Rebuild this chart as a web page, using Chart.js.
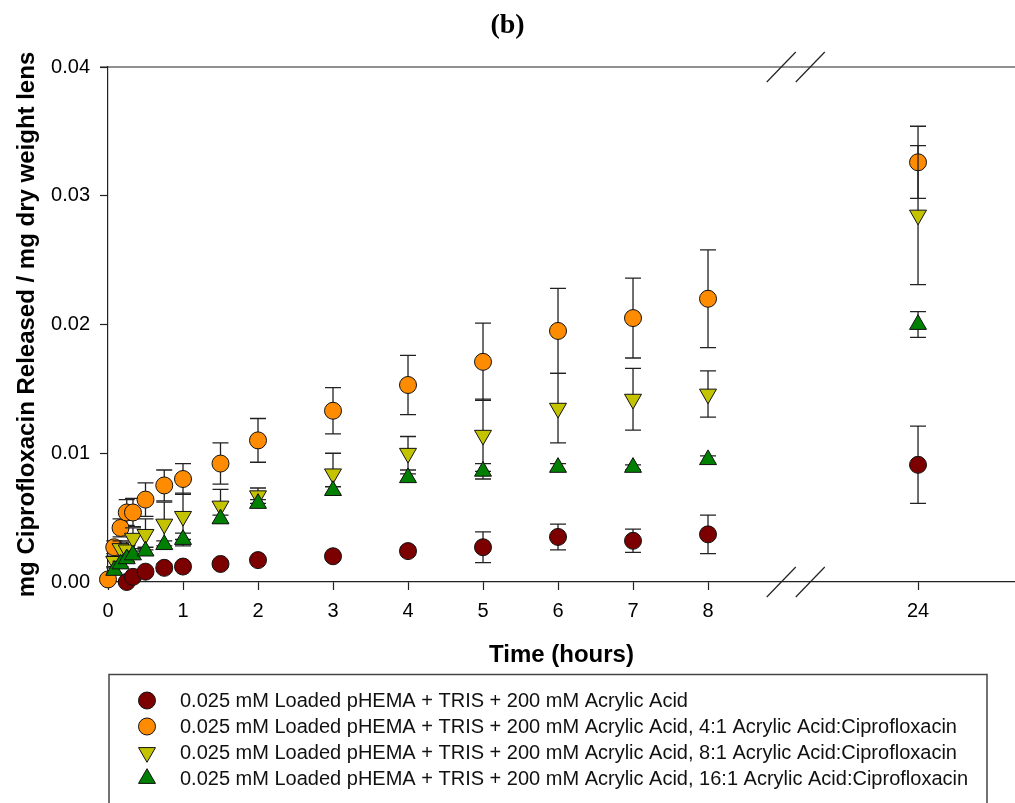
<!DOCTYPE html>
<html>
<head>
<meta charset="utf-8">
<title>Ciprofloxacin release</title>
<script src="https://cdn.jsdelivr.net/npm/chart.js@4.4.1/dist/chart.umd.min.js"></script>
<style>
  html, body { margin: 0; padding: 0; background: #fff; overflow: hidden; }
  canvas { display: block; }
</style>
</head>
<body>
<canvas id="releaseChart" width="1015" height="803"></canvas>
<script>
// Sampling times (hours)
const times = [0, 0.083, 0.167, 0.25, 0.333, 0.5, 0.75, 1, 1.5, 2, 3, 4, 5, 6, 7, 8, 24];

// mg ciprofloxacin released / mg dry weight lens, with error bars
const noRatio = [null, null, null, 0.0000, 0.0004, 0.0008, 0.0011, 0.0012, 0.0014, 0.0017, 0.0020, 0.0024, 0.0027, 0.0035, 0.0032, 0.0037, 0.0091];
const noRatioErr = [null, null, null, 0.0001, 0.0001, 0.0002, 0.0003, 0.0002, 0.0002, 0.0002, 0.0002, 0.0003, 0.0012, 0.0010, 0.0009, 0.0015, 0.0030];
const ratio4 = [0.0002, 0.0027, 0.0042, 0.0054, 0.0054, 0.0064, 0.0075, 0.0080, 0.0092, 0.0110, 0.0133, 0.0153, 0.0171, 0.0195, 0.0205, 0.0220, 0.0326];
const ratio4Err = [0.0002, 0.0005, 0.0007, 0.0010, 0.0011, 0.0013, 0.0012, 0.0012, 0.0016, 0.0017, 0.0018, 0.0023, 0.0030, 0.0033, 0.0031, 0.0038, 0.0028];
const ratio8 = [null, 0.0016, 0.0026, 0.0025, 0.0034, 0.0037, 0.0045, 0.0051, 0.0059, 0.0067, 0.0084, 0.0100, 0.0114, 0.0135, 0.0142, 0.0146, 0.0285];
const ratio8Err = [null, 0.0004, 0.0006, 0.0006, 0.0008, 0.0012, 0.0017, 0.0018, 0.0013, 0.0006, 0.0016, 0.0013, 0.0028, 0.0027, 0.0024, 0.0018, 0.0054];
const ratio16 = [null, 0.0009, 0.0014, 0.0018, 0.0021, 0.0024, 0.0029, 0.0033, 0.0049, 0.0061, 0.0071, 0.0081, 0.0086, 0.0089, 0.0089, 0.0095, 0.0200];
const ratio16Err = [null, 0.0002, 0.0002, 0.0002, 0.0003, 0.0003, 0.0003, 0.0005, 0.0003, 0.0003, 0.0003, 0.0003, 0.0006, 0.0003, 0.0002, 0.0003, 0.0010];

// Axis ticks
const xTickHours = [0, 1, 2, 3, 4, 5, 6, 7, 8, 24];
const xTickLabels = ['0', '1', '2', '3', '4', '5', '6', '7', '8', '24'];
const yTicks = [0, 0.01, 0.02, 0.03, 0.04];

const seriesLabels = [
  '0.025 mM Loaded pHEMA + TRIS + 200 mM Acrylic Acid',
  '0.025 mM Loaded pHEMA + TRIS + 200 mM Acrylic Acid, 4:1 Acrylic Acid:Ciprofloxacin',
  '0.025 mM Loaded pHEMA + TRIS + 200 mM Acrylic Acid, 8:1 Acrylic Acid:Ciprofloxacin',
  '0.025 mM Loaded pHEMA + TRIS + 200 mM Acrylic Acid, 16:1 Acrylic Acid:Ciprofloxacin'
];

// the x axis is broken after 8 h, 24 h sits further right
const BREAK_AT = 9.17;
const POS_24 = 10.8;
function axisPos(t) {
  return t <= 8 ? t : POS_24 + (t - 24) * 0.1;
}

function toPoints(values) {
  return times.map((t, i) => ({ x: axisPos(t), y: values[i] }));
}

const FONT = "'Liberation Sans', Arial, sans-serif";

function makeSet(label, values, errors, color, style, rotation, radius, order) {
  return {
    label: label,
    data: toPoints(values),
    errors: errors,
    pointStyle: style,
    rotation: rotation,
    pointRadius: radius,
    pointHoverRadius: radius,
    backgroundColor: color,
    borderColor: '#111',
    borderWidth: 1,
    showLine: false,
    clip: false,
    order: order
  };
}

const datasets = [
  makeSet(seriesLabels[0], noRatio, noRatioErr, '#7d0000', 'circle', 0, 8.5, 4),
  makeSet(seriesLabels[1], ratio4, ratio4Err, '#ff8c00', 'circle', 0, 8.5, 3),
  makeSet(seriesLabels[2], ratio8, ratio8Err, '#c3c300', 'triangle', 180, 9.8, 2),
  makeSet(seriesLabels[3], ratio16, ratio16Err, '#008000', 'triangle', 0, 9.8, 1)
];

// error bars drawn just before each series' markers
const errorBars = {
  id: 'errorBars',
  beforeDatasetDraw(chart, args) {
    const ds = chart.data.datasets[args.index];
    const yScale = chart.scales.y;
    const ctx = chart.ctx;
    ctx.save();
    ctx.strokeStyle = '#222';
    ctx.lineWidth = 1.3;
    args.meta.data.forEach((pt, i) => {
      const v = ds.data[i].y;
      const e = ds.errors[i];
      if (v === null || e === null || e === undefined) return;
      const top = yScale.getPixelForValue(v + e);
      const bot = yScale.getPixelForValue(Math.max(v - e, 0));
      ctx.beginPath();
      ctx.moveTo(pt.x, top);
      ctx.lineTo(pt.x, bot);
      ctx.moveTo(pt.x - 8, top);
      ctx.lineTo(pt.x + 8, top);
      ctx.moveTo(pt.x - 8, bot);
      ctx.lineTo(pt.x + 8, bot);
      ctx.stroke();
    });
    ctx.restore();
  }
};

// top frame line, axis break marks and the boxed legend
const frameAndLegend = {
  id: 'frameAndLegend',
  afterDraw(chart) {
    const ctx = chart.ctx;
    const area = chart.chartArea;
    const bx = chart.scales.x.getPixelForValue(BREAK_AT);
    ctx.save();
    ctx.strokeStyle = '#222';
    ctx.lineWidth = 1.2;
    ctx.beginPath();
    ctx.moveTo(area.left - 8, area.top);
    ctx.lineTo(area.right, area.top);
    ctx.stroke();

    [area.top, area.bottom].forEach(yy => {
      [-14.5, 14.5].forEach(dx => {
        ctx.beginPath();
        ctx.moveTo(bx + dx - 14.5, yy + 15);
        ctx.lineTo(bx + dx + 14.5, yy - 15);
        ctx.stroke();
      });
    });

    // legend box
    ctx.strokeStyle = '#444';
    ctx.lineWidth = 1.5;
    ctx.strokeRect(109, 674.5, 878, 140);

    ctx.font = '20px ' + FONT;
    ctx.textBaseline = 'middle';
    ctx.fillStyle = '#111';
    chart.data.datasets.forEach((ds, i) => {
      const y = 700.5 + i * 26;
      ctx.save();
      ctx.fillStyle = ds.backgroundColor;
      ctx.strokeStyle = ds.borderColor;
      ctx.lineWidth = 1;
      Chart.helpers.drawPoint(ctx, {
        pointStyle: ds.pointStyle,
        rotation: ds.rotation,
        radius: ds.pointRadius,
        borderWidth: 1
      }, 147, y);
      ctx.restore();
      ctx.fillText(ds.label, 180, y + 1);
    });
    ctx.restore();
  }
};

const ctx = document.getElementById('releaseChart').getContext('2d');

const releaseChart = new Chart(ctx, {
  type: 'scatter',
  data: { datasets: datasets },
  plugins: [errorBars, frameAndLegend],
  options: {
    responsive: false,
    animation: false,
    layout: {
      autoPadding: false,
      padding: { left: 0, right: 0, top: 0, bottom: 131 }
    },
    plugins: {
      legend: { display: false },
      tooltip: { enabled: false },
      title: {
        display: true,
        text: '(b)',
        color: '#000',
        font: { family: "'Liberation Serif', 'Times New Roman', serif", size: 28, weight: 'bold' },
        padding: { top: 9, bottom: 24.4 }
      }
    },
    scales: {
      x: {
        type: 'linear',
        min: 0,
        max: 12.093,
        afterBuildTicks(scale) {
          scale.ticks = xTickHours.map(h => ({ value: axisPos(h) }));
        },
        afterFit(scale) {
          scale.height = 90;
          scale.paddingRight = 0;
        },
        ticks: {
          color: '#000',
          font: { family: FONT, size: 20 },
          padding: 9,
          maxRotation: 0,
          autoSkip: false,
          callback: (value, index) => xTickLabels[index]
        },
        grid: { drawOnChartArea: false, color: '#222', tickLength: 8, tickWidth: 1.2 },
        border: { color: '#222', width: 1.2 },
        title: {
          display: true,
          text: 'Time (hours)',
          color: '#000',
          font: { family: FONT, size: 24, weight: 'bold' },
          padding: { top: 0, bottom: 2 }
        }
      },
      y: {
        min: 0,
        max: 0.04,
        afterBuildTicks(scale) {
          scale.ticks = yTicks.map(v => ({ value: v }));
        },
        afterFit(scale) { scale.width = 108; },
        ticks: {
          color: '#000',
          font: { family: FONT, size: 20 },
          padding: 10,
          callback: value => value.toFixed(2)
        },
        grid: { drawOnChartArea: false, color: '#222', tickLength: 8, tickWidth: 1.2 },
        border: { color: '#222', width: 1.2 },
        title: {
          display: true,
          text: 'mg Ciprofloxacin Released / mg dry weight lens',
          color: '#000',
          font: { family: FONT, size: 24, weight: 'bold' },
          padding: { top: 13, bottom: 0 }
        }
      }
    }
  }
});
</script>
</body>
</html>
